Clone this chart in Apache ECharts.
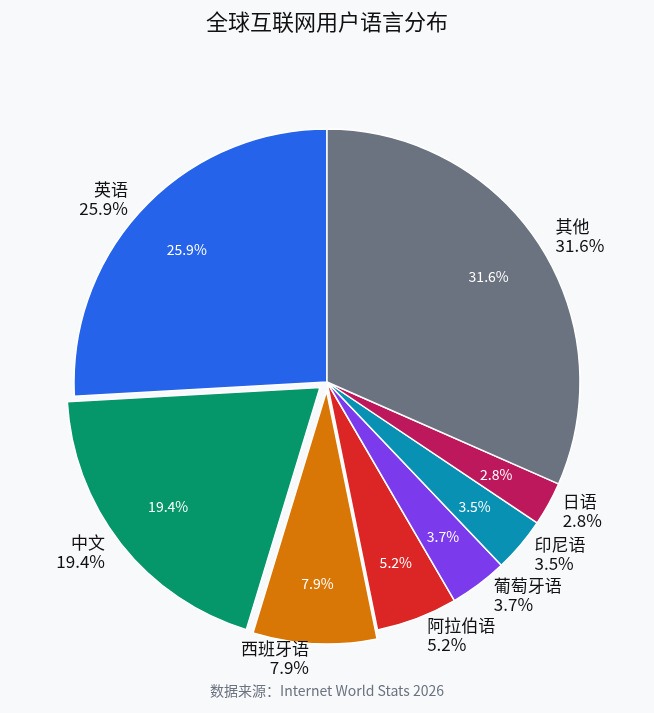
<!DOCTYPE html>
<html><head><meta charset="utf-8">
<script src="https://cdn.jsdelivr.net/npm/echarts@6/dist/echarts.min.js"></script>
<style>html,body{margin:0;padding:0;background:#f8f9fb}#c{width:654px;height:713px}</style>
</head><body><div id="c"></div>
<script>
const categories = ['英语','中文','西班牙语','阿拉伯语','葡萄牙语','印尼语','日语','其他'];
const values = [25.9,19.4,7.9,5.2,3.7,3.5,2.8,31.6];
const colors = ['#2563eb','#059669','#d97706','#dc2626','#7c3aed','#0891b2','#be185d','#6b7280'];
const selectedCats = ['中文','西班牙语'];
const font = '"Noto Sans CJK SC","Noto Sans",sans-serif';
const mk = () => categories.map((n,i)=>({name:n,value:values[i],selected:selectedCats.includes(n),itemStyle:{color:colors[i]}}));
const base = {type:'pie',center:[327,382],radius:253,startAngle:90,clockwise:false,selectedMode:'multiple',selectedOffset:9,animation:false};
const chart = echarts.init(document.getElementById('c'));
chart.setOption({
  backgroundColor:'#f8f9fb',
  title:{text:'全球互联网用户语言分布',left:'center',top:6,textStyle:{fontFamily:font,fontSize:22,fontWeight:'normal',color:'#111'}},
  graphic:[{type:'text',left:'center',top:684,style:{text:'数据来源：Internet World Stats 2026',fontFamily:font,fontSize:14,fill:'#6b7280'}}],
  series:[
    Object.assign({},base,{data:mk(),itemStyle:{borderColor:'#fff',borderWidth:1.5},
      label:{show:true,position:'outside',formatter:'{b}\n{d}%',fontFamily:font,fontSize:17,color:'#111',lineHeight:19},
      labelLine:{show:false,length:14,length2:0}}),
    Object.assign({},base,{radius:380,silent:true,data:mk().map(d=>(d.itemStyle={color:'transparent'},d)),
      label:{show:true,position:'inside',formatter:'{d}%',fontFamily:font,fontSize:14,color:'#fff'},labelLine:{show:false}})
  ]
});
</script></body></html>
